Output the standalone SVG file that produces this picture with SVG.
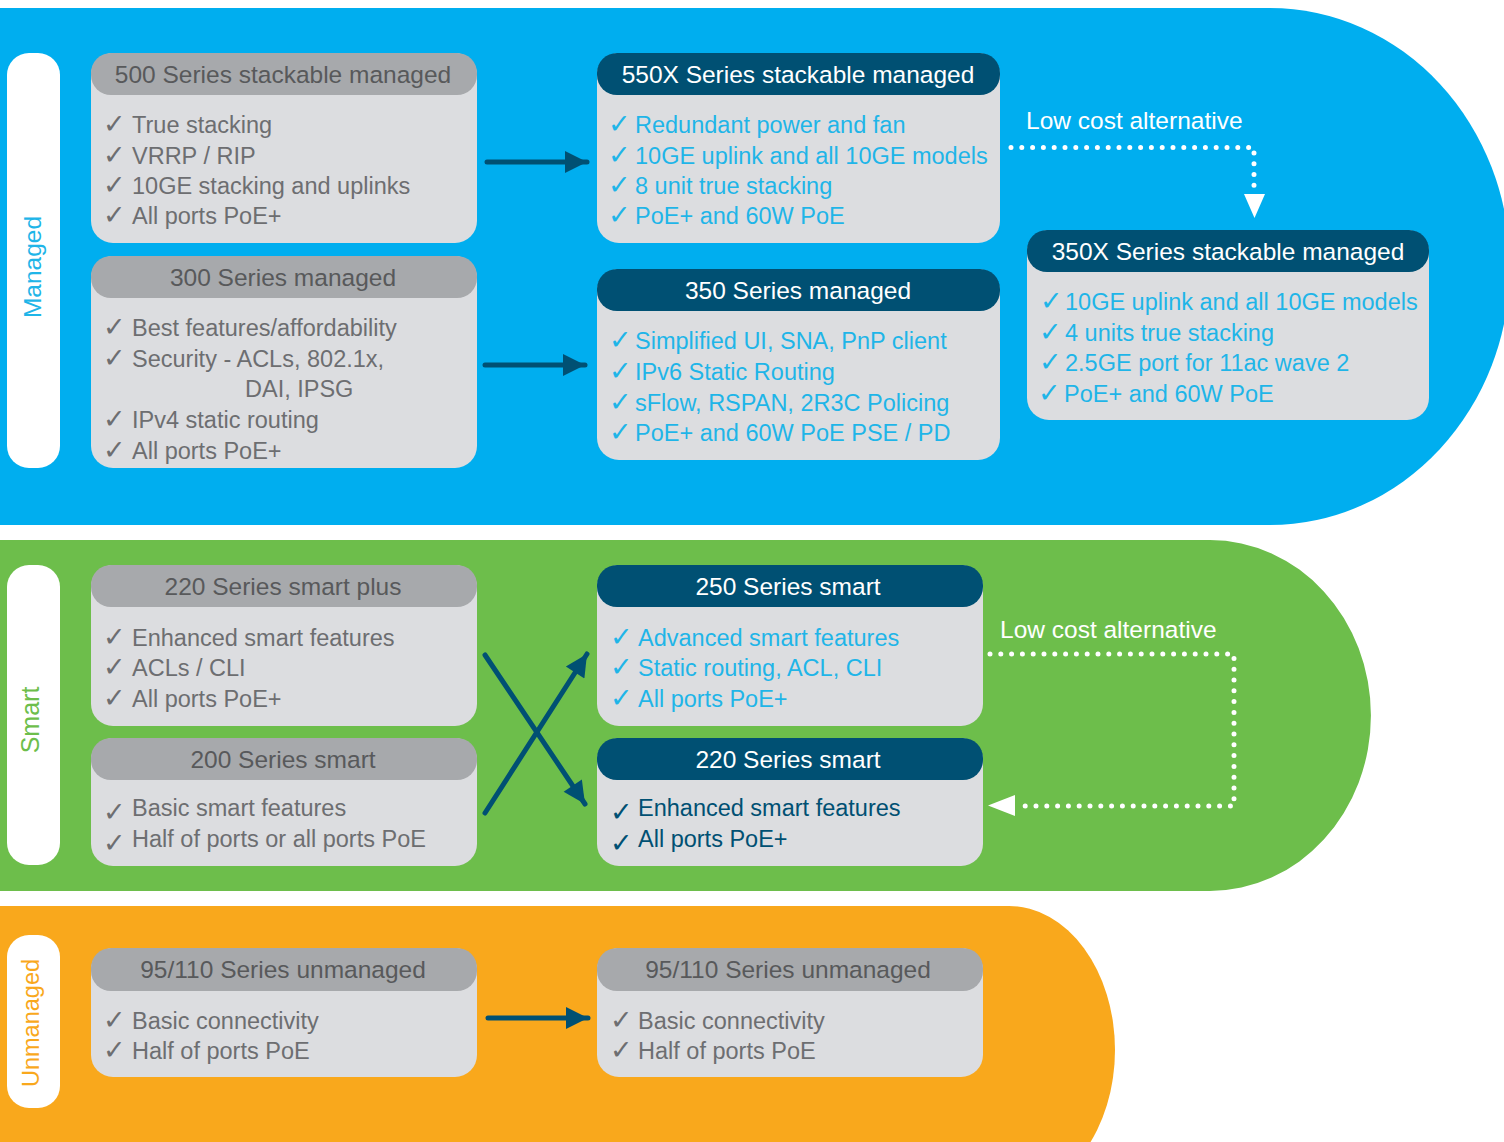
<svg xmlns="http://www.w3.org/2000/svg" width="1504" height="1142" viewBox="0 0 1504 1142">
<defs>
<style>
text{font-family:"Liberation Sans","DejaVu Sans",sans-serif;font-size:23.5px}
.ck{font-family:"DejaVu Sans",sans-serif;font-size:27px}
.body{fill:#dcdde0}
.hg{fill:#a7a9ac}
.hn{fill:#005073}
.tg{fill:#58595b;text-anchor:middle;font-size:24.5px}
.tw{fill:#ffffff;text-anchor:middle;font-size:24.5px}
.lg{fill:#6d6e71}
.lc{fill:#1fb5e8}
.ln{fill:#005073}
.white{fill:#ffffff;font-size:24.5px}
.side{font-size:24.5px;text-anchor:middle}
.conn{stroke:#005073;stroke-width:5;stroke-linecap:round;fill:none}
.dot{stroke:#ffffff;stroke-width:5;stroke-linecap:round;stroke-dasharray:0 10.8;fill:none}
</style>
<marker id="ah" viewBox="0 0 10 10" refX="10" refY="5" markerWidth="6" markerHeight="4.4" markerUnits="strokeWidth" orient="auto">
<path d="M0,0 L10,5 L0,10 Z" fill="#005073"/>
</marker>
</defs>

<g id="bands">
<path d="M0,8 H1270 A240 258.5 0 0 1 1270,525 H0 Z" fill="#00aeef"/>
<path d="M0,540 H1210 A161 175.5 0 0 1 1210,891 H0 Z" fill="#6dbe4b"/>
<path d="M0,906 H1009 A106 144 0 0 1 1009,1194 H0 Z" fill="#f9a81c"/>
</g>

<g id="label-managed">
<rect x="7" y="53" width="53" height="415" rx="22" fill="#ffffff"/>
<text class="side" transform="translate(41,267) rotate(-90)" fill="#1fb5e8">Managed</text>
</g>
<g id="label-smart">
<rect x="7" y="565" width="53" height="300" rx="22" fill="#ffffff"/>
<text class="side" transform="translate(39,720) rotate(-90)" fill="#6dbe4b" style="font-size:25px">Smart</text>
</g>
<g id="label-unmanaged">
<rect x="7" y="935" width="53" height="173" rx="22" fill="#ffffff"/>
<text class="side" transform="translate(39,1023) rotate(-90)" fill="#f9a81c" style="font-size:23.5px">Unmanaged</text>
</g>

<g id="node-500">
<rect class="body" x="91" y="53" width="386" height="190" rx="22"/>
<rect class="hg" x="91" y="53" width="386" height="42" rx="20"/>
<text class="tg" x="283" y="83">500 Series stackable managed</text>
<text class="lg" y="133"><tspan class="ck" x="103">✓</tspan><tspan x="132">True stacking</tspan></text>
<text class="lg" y="164"><tspan class="ck" x="103">✓</tspan><tspan x="132">VRRP / RIP</tspan></text>
<text class="lg" y="194"><tspan class="ck" x="103">✓</tspan><tspan x="132">10GE stacking and uplinks</tspan></text>
<text class="lg" y="224"><tspan class="ck" x="103">✓</tspan><tspan x="132">All ports PoE+</tspan></text>
</g>

<g id="node-300">
<rect class="body" x="91" y="256" width="386" height="212" rx="22"/>
<rect class="hg" x="91" y="256" width="386" height="42" rx="20"/>
<text class="tg" x="283" y="286">300 Series managed</text>
<text class="lg" y="336"><tspan class="ck" x="103">✓</tspan><tspan x="132">Best features/affordability</tspan></text>
<text class="lg" y="367"><tspan class="ck" x="103">✓</tspan><tspan x="132">Security - ACLs, 802.1x,</tspan></text>
<text class="lg" x="245" y="397">DAI, IPSG</text>
<text class="lg" y="428"><tspan class="ck" x="103">✓</tspan><tspan x="132">IPv4 static routing</tspan></text>
<text class="lg" y="459"><tspan class="ck" x="103">✓</tspan><tspan x="132">All ports PoE+</tspan></text>
</g>

<g id="node-550x">
<rect class="body" x="597" y="53" width="403" height="190" rx="22"/>
<rect class="hn" x="597" y="53" width="403" height="42" rx="20"/>
<text class="tw" x="798" y="83">550X Series stackable managed</text>
<text class="lc" y="133"><tspan class="ck" x="608">✓</tspan><tspan x="635">Redundant power and fan</tspan></text>
<text class="lc" y="164"><tspan class="ck" x="608">✓</tspan><tspan x="635">10GE uplink and all 10GE models</tspan></text>
<text class="lc" y="194"><tspan class="ck" x="608">✓</tspan><tspan x="635">8 unit true stacking</tspan></text>
<text class="lc" y="224"><tspan class="ck" x="608">✓</tspan><tspan x="635">PoE+ and 60W PoE</tspan></text>
</g>

<g id="node-350">
<rect class="body" x="597" y="269" width="403" height="191" rx="22"/>
<rect class="hn" x="597" y="269" width="403" height="42" rx="20"/>
<text class="tw" x="798" y="299">350 Series managed</text>
<text class="lc" y="349"><tspan class="ck" x="609">✓</tspan><tspan x="635">Simplified UI, SNA, PnP client</tspan></text>
<text class="lc" y="380"><tspan class="ck" x="609">✓</tspan><tspan x="635">IPv6 Static Routing</tspan></text>
<text class="lc" y="411"><tspan class="ck" x="609">✓</tspan><tspan x="635">sFlow, RSPAN, 2R3C Policing</tspan></text>
<text class="lc" y="441"><tspan class="ck" x="609">✓</tspan><tspan x="635">PoE+ and 60W PoE PSE / PD</tspan></text>
</g>

<g id="node-350x">
<rect class="body" x="1027" y="230" width="402" height="190" rx="22"/>
<rect class="hn" x="1027" y="230" width="402" height="42" rx="20"/>
<text class="tw" x="1228" y="260">350X Series stackable managed</text>
<text class="lc" y="310"><tspan class="ck" x="1040">✓</tspan><tspan x="1065">10GE uplink and all 10GE models</tspan></text>
<text class="lc" y="341"><tspan class="ck" x="1039">✓</tspan><tspan x="1065">4 units true stacking</tspan></text>
<text class="lc" y="371"><tspan class="ck" x="1039">✓</tspan><tspan x="1065">2.5GE port for 11ac wave 2</tspan></text>
<text class="lc" y="402"><tspan class="ck" x="1038">✓</tspan><tspan x="1064">PoE+ and 60W PoE</tspan></text>
</g>

<g id="node-220plus">
<rect class="body" x="91" y="565" width="386" height="161" rx="22"/>
<rect class="hg" x="91" y="565" width="386" height="42" rx="20"/>
<text class="tg" x="283" y="595">220 Series smart plus</text>
<text class="lg" y="646"><tspan class="ck" x="103">✓</tspan><tspan x="132">Enhanced smart features</tspan></text>
<text class="lg" y="676"><tspan class="ck" x="103">✓</tspan><tspan x="132">ACLs / CLI</tspan></text>
<text class="lg" y="707"><tspan class="ck" x="103">✓</tspan><tspan x="132">All ports PoE+</tspan></text>
</g>

<g id="node-200">
<rect class="body" x="91" y="738" width="386" height="128" rx="22"/>
<rect class="hg" x="91" y="738" width="386" height="42" rx="20"/>
<text class="tg" x="283" y="768">200 Series smart</text>
<text class="lg" y="816"><tspan class="ck" x="103" dy="5">✓</tspan><tspan x="132" dy="-5">Basic smart features</tspan></text>
<text class="lg" y="847"><tspan class="ck" x="103" dy="5">✓</tspan><tspan x="132" dy="-5">Half of ports or all ports PoE</tspan></text>
</g>

<g id="node-250">
<rect class="body" x="597" y="565" width="386" height="161" rx="22"/>
<rect class="hn" x="597" y="565" width="386" height="42" rx="20"/>
<text class="tw" x="788" y="595">250 Series smart</text>
<text class="lc" y="646"><tspan class="ck" x="610">✓</tspan><tspan x="638">Advanced smart features</tspan></text>
<text class="lc" y="676"><tspan class="ck" x="610">✓</tspan><tspan x="638">Static routing, ACL, CLI</tspan></text>
<text class="lc" y="707"><tspan class="ck" x="610">✓</tspan><tspan x="638">All ports PoE+</tspan></text>
</g>

<g id="node-220smart">
<rect class="body" x="597" y="738" width="386" height="128" rx="22"/>
<rect class="hn" x="597" y="738" width="386" height="42" rx="20"/>
<text class="tw" x="788" y="768">220 Series smart</text>
<text class="ln" y="816"><tspan class="ck" x="610" dy="5">✓</tspan><tspan x="638" dy="-5">Enhanced smart features</tspan></text>
<text class="ln" y="847"><tspan class="ck" x="610" dy="5">✓</tspan><tspan x="638" dy="-5">All ports PoE+</tspan></text>
</g>

<g id="node-95-left">
<rect class="body" x="91" y="948" width="386" height="129" rx="22"/>
<rect class="hg" x="91" y="948" width="386" height="43" rx="20"/>
<text class="tg" x="283" y="978">95/110 Series unmanaged</text>
<text class="lg" y="1029"><tspan class="ck" x="103">✓</tspan><tspan x="132">Basic connectivity</tspan></text>
<text class="lg" y="1059"><tspan class="ck" x="103">✓</tspan><tspan x="132">Half of ports PoE</tspan></text>
</g>

<g id="node-95-right">
<rect class="body" x="597" y="948" width="386" height="129" rx="22"/>
<rect class="hg" x="597" y="948" width="386" height="43" rx="20"/>
<text class="tg" x="788" y="978">95/110 Series unmanaged</text>
<text class="lg" y="1029"><tspan class="ck" x="610">✓</tspan><tspan x="638">Basic connectivity</tspan></text>
<text class="lg" y="1059"><tspan class="ck" x="610">✓</tspan><tspan x="638">Half of ports PoE</tspan></text>
</g>

<g id="connectors">
<line class="conn" x1="487" y1="162" x2="587" y2="162" marker-end="url(#ah)"/>
<line class="conn" x1="485" y1="365" x2="585" y2="365" marker-end="url(#ah)"/>
<line class="conn" x1="485" y1="655" x2="585" y2="804" marker-end="url(#ah)"/>
<line class="conn" x1="485" y1="813" x2="587" y2="654" marker-end="url(#ah)"/>
<line class="conn" x1="488" y1="1018" x2="588" y2="1018" marker-end="url(#ah)"/>
<path class="dot" d="M1011,147.5 H1254 V196"/>
<path d="M1244,194 L1265,194 L1254.5,218 Z" fill="#ffffff"/>
<text class="white" x="1026" y="129">Low cost alternative</text>
<path class="dot" d="M990,654 H1234 V806 H1020"/>
<path d="M1015,795 L1015,816 L988,805.5 Z" fill="#ffffff"/>
<text class="white" x="1000" y="638">Low cost alternative</text>
</g>
</svg>
